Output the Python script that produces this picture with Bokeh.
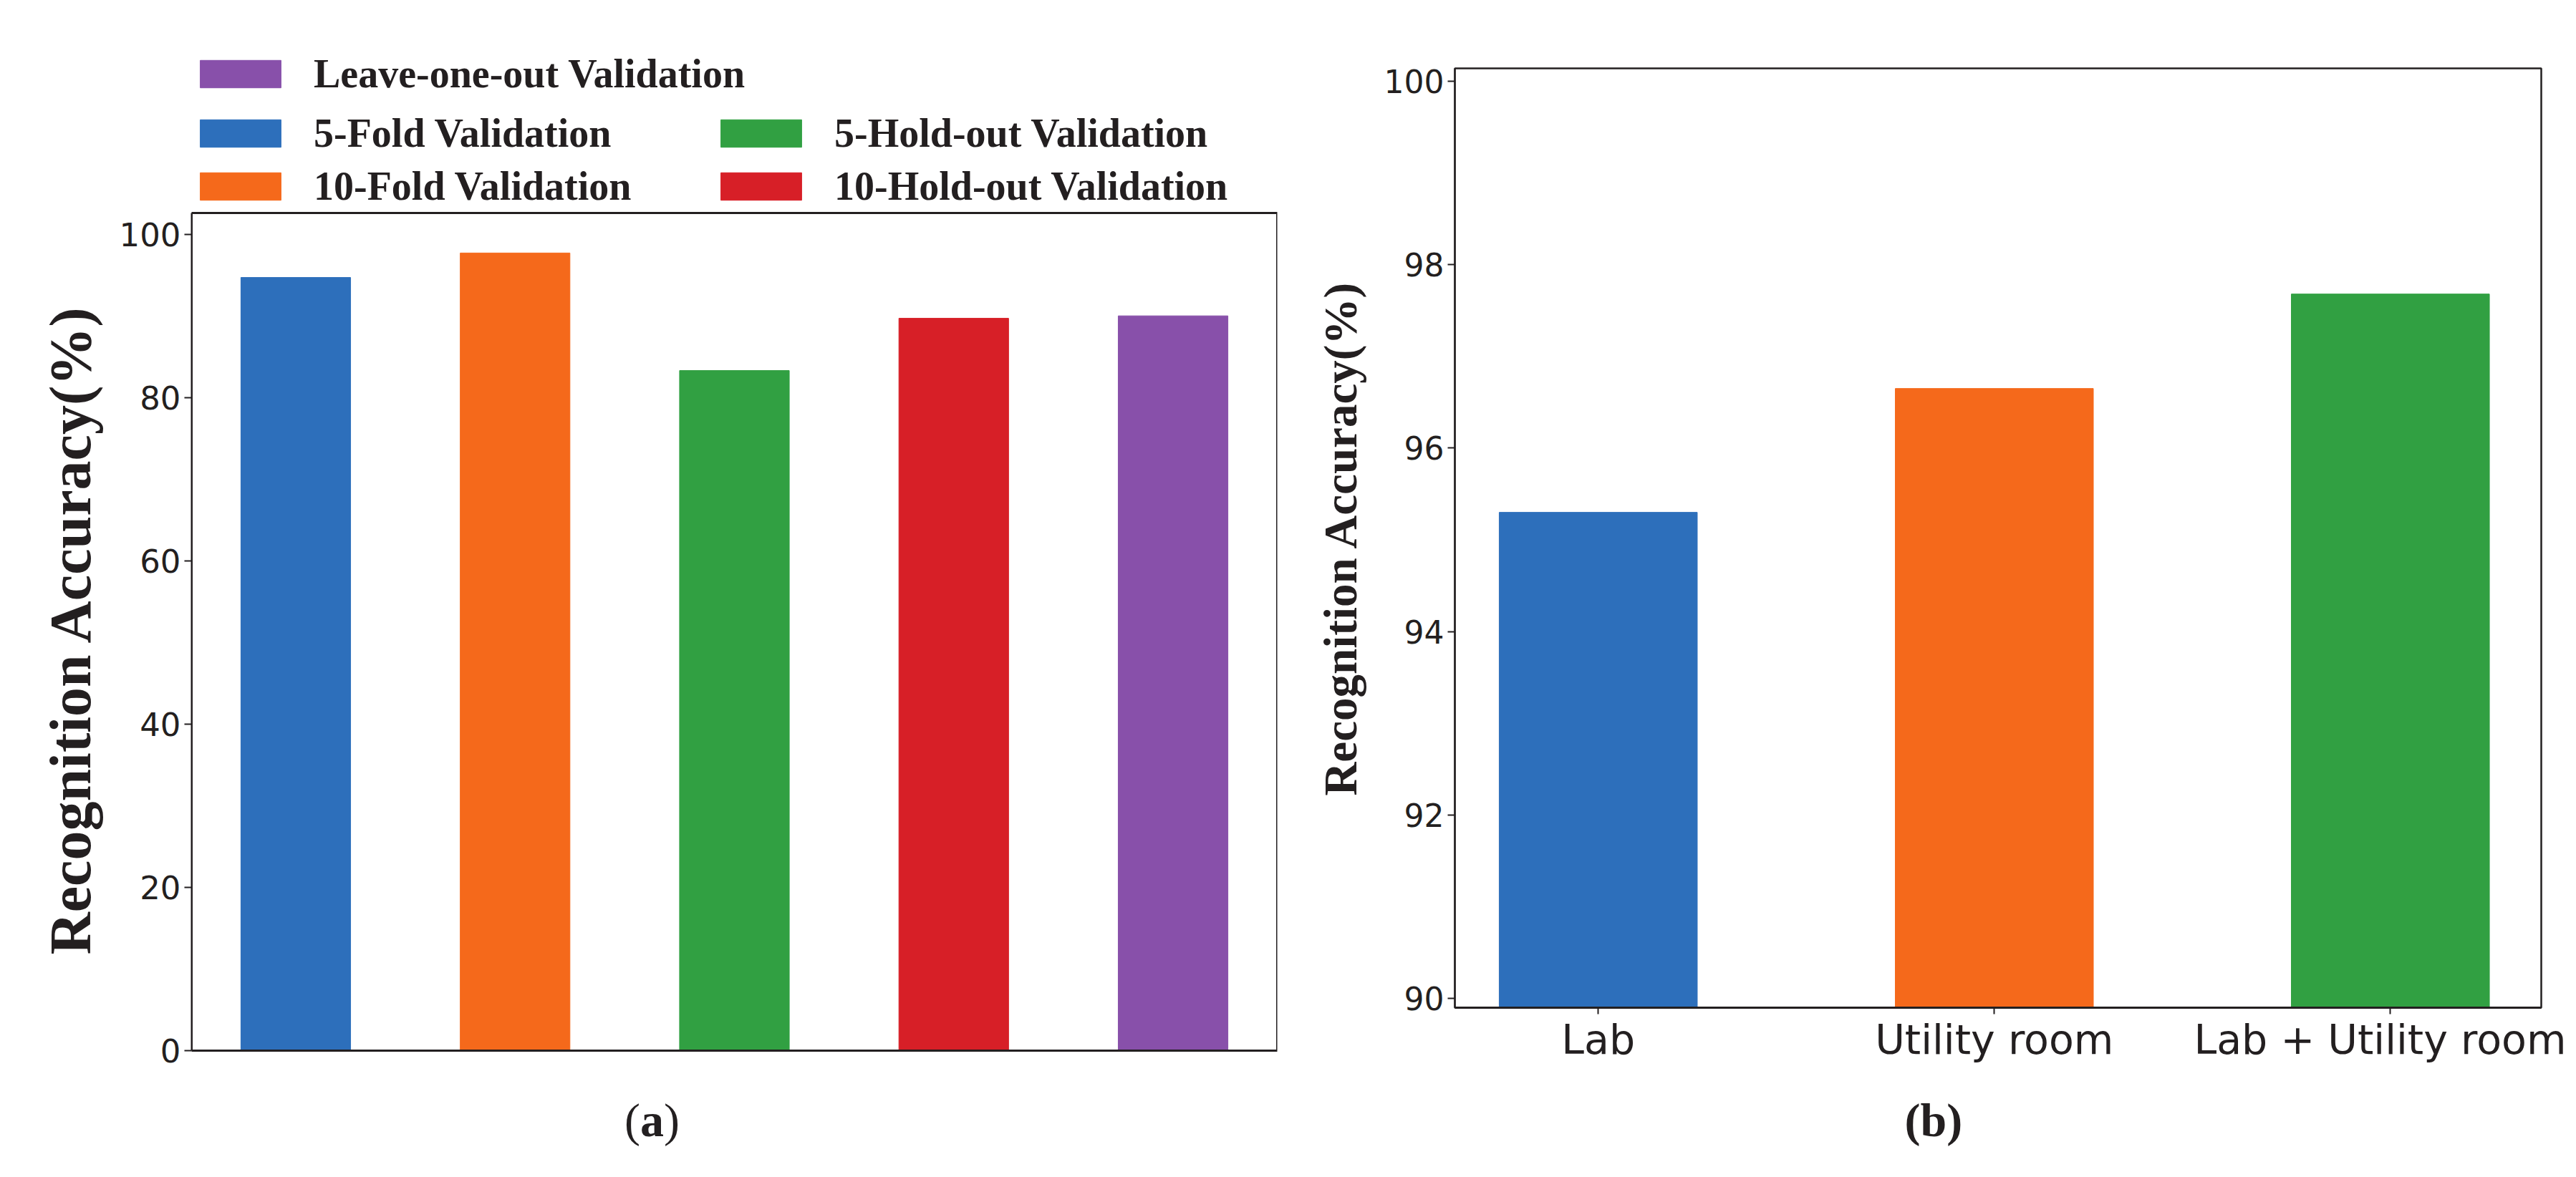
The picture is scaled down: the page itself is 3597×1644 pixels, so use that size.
from bokeh.plotting import figure
from bokeh.models import (ColumnDataSource, FixedTicker, Range1d, BoxAnnotation,
                          Legend, LegendItem, Title, Label)
from bokeh.embed import file_html
from bokeh.resources import INLINE

# ---------------- data ----------------
methods = ["5-Fold Validation", "10-Fold Validation", "5-Hold-out Validation",
           "10-Hold-out Validation", "Leave-one-out Validation"]
accuracy_a = [94.7, 97.7, 83.3, 89.7, 90.0]
scenes = ["Lab", "Utility room", "Lab + Utility room"]
accuracy_b = [95.3, 96.65, 97.68]
yticks_a = [0, 20, 40, 60, 80, 100]
yticks_b = [90, 92, 94, 96, 98, 100]
palette = ["#2d6fbb", "#f5691b", "#31a042", "#d71f27", "#8850aa"]
legend_rows = [[4], [0, 2], [1, 3]]   # top to bottom, indices into methods

INK = "#231f20"
SERIF = "Liberation Serif"
SANS = "DejaVu Sans"

# ---------------- panel (a) ----------------
# The frame of (a) is larger than its visible axes box so that the legend
# (above) and the caption (below) sit inside it.
A_LEFT, A_RIGHT, A_WIDTH = 267, 1783, 1808
A_FTOP, A_BTOP, A_BBOT, A_FBOT = 38, 297, 1467, 1640
YMAX_A = 102.6
ppu = (A_BBOT - A_BTOP) / YMAX_A
y0_a = -(A_FBOT - A_BBOT) / ppu
y1_a = YMAX_A + (A_BTOP - A_FTOP) / ppu
x0_a, x1_a = -0.475, len(methods) - 1 + 0.475

src_a = ColumnDataSource(dict(x=list(range(len(methods))), y=accuracy_a,
                              name=methods, color=palette))
pa = figure(frame_width=A_RIGHT - A_LEFT, frame_height=A_FBOT - A_FTOP,
            output_backend="svg", toolbar_location=None,
            x_range=Range1d(x0_a, x1_a), y_range=Range1d(y0_a, y1_a),
            min_border_left=A_LEFT, min_border_right=A_WIDTH - A_RIGHT,
            min_border_top=A_FTOP, min_border_bottom=4)
ra = pa.vbar(x="x", top="y", width=0.5, bottom=0, color="color", source=src_a)
pa.grid.visible = False
pa.outline_line_color = None
pa.xaxis.visible = False
pa.add_layout(BoxAnnotation(left=x0_a, right=x1_a, bottom=0, top=YMAX_A,
                            fill_alpha=0, line_color=INK, line_alpha=1,
                            line_width=3))
ya = pa.yaxis[0]
ya.bounds = (0, YMAX_A)
ya.ticker = FixedTicker(ticks=yticks_a)
ya.axis_line_color = INK
ya.axis_line_width = 2
ya.major_tick_line_color = INK
ya.major_tick_line_width = 2
ya.major_tick_in = 0
ya.major_tick_out = 10
ya.minor_tick_line_color = None
ya.major_label_text_font = SANS
ya.major_label_text_font_size = "45px"
ya.major_label_text_color = INK
ya.major_label_standoff = 5
pa.styles = {"position": "absolute", "left": "0px", "top": "0px"}

# y-axis title, placed along the visible box
pa.add_layout(Title(text="Recognition Accuracy(%)", align="left",
                    offset=A_FBOT - 1333, standoff=40, text_font=SERIF,
                    text_font_style="bold", text_font_size="82px",
                    text_color=INK), "left")

# legend rows (vertical offsets in px above the frame bottom)
row_offsets = [1505, 1422, 1348]
for items, vy in zip(legend_rows, row_offsets):
    leg = Legend(items=[LegendItem(label=methods[i], renderers=[ra], index=i)
                        for i in items],
                 orientation="horizontal", location=(-2, vy),
                 margin=0, padding=0, spacing=0,
                 glyph_width=141, glyph_height=48, label_standoff=32,
                 label_width=554,
                 border_line_color=None, background_fill_alpha=0,
                 label_text_font=SERIF, label_text_font_style="bold",
                 label_text_font_size="56px", label_text_color=INK)
    pa.add_layout(leg)

# caption (a): regular parentheses, bold letter
cap_kw = dict(y=76, x_units="screen", y_units="screen", text_font=SERIF,
              text_font_size="66px", text_color=INK,
              text_baseline="alphabetic")
pa.add_layout(Label(x=626.5, text="(", text_align="right", **cap_kw))
pa.add_layout(Label(x=643, text="a", text_align="center",
                    text_font_style="bold", **cap_kw))
pa.add_layout(Label(x=659.5, text=")", text_align="left", **cap_kw))

# ---------------- panel (b) ----------------
src_b = ColumnDataSource(dict(x=list(range(len(scenes))), y=accuracy_b,
                              name=scenes, color=palette[:len(scenes)]))
pb = figure(frame_width=3548 - 2031, frame_height=1407 - 95,
            output_backend="svg", toolbar_location=None,
            x_range=Range1d(-0.362, len(scenes) - 1 + 0.381),
            y_range=Range1d(89.9, 100.14),
            min_border_left=2031 - A_WIDTH, min_border_right=35,
            min_border_top=95, min_border_bottom=0)
pb.vbar(x="x", top="y", width=0.5, bottom=89.9, color="color", source=src_b)
pb.grid.visible = False
pb.outline_line_color = INK
pb.outline_line_width = 2.5
yb = pb.yaxis[0]
yb.ticker = FixedTicker(ticks=yticks_b)
yb.axis_line_color = INK
yb.axis_line_width = 2
yb.major_tick_line_color = INK
yb.major_tick_line_width = 2
yb.major_tick_in = 0
yb.major_tick_out = 10
yb.minor_tick_line_color = None
yb.major_label_text_font = SANS
yb.major_label_text_font_size = "44px"
yb.major_label_text_color = INK
yb.major_label_standoff = 5
yb.axis_label = "Recognition Accuracy(%)"
yb.axis_label_text_font = SERIF
yb.axis_label_text_font_style = "bold"
yb.axis_label_text_color = INK
yb.axis_label_text_font_size = "65px"
yb.axis_label_standoff = 22
xb = pb.xaxis[0]
xb.ticker = FixedTicker(ticks=list(range(len(scenes))))
xb.major_label_overrides = {i: s for i, s in enumerate(scenes)}
xb.axis_line_width = 3
xb.axis_line_color = INK
xb.major_tick_line_color = INK
xb.major_tick_line_width = 2
xb.major_tick_in = 0
xb.major_tick_out = 9
xb.minor_tick_line_color = None
xb.major_label_text_font = SANS
xb.major_label_text_font_size = "57px"
xb.major_label_text_color = INK
xb.major_label_standoff = 2
pb.styles = {"position": "absolute", "left": f"{A_WIDTH}px", "top": "0px"}

pb.add_layout(Title(text="(b)", align="left", offset=628, standoff=76,
                    text_font=SERIF, text_font_style="bold",
                    text_font_size="66px", text_color=INK), "below")

open("out.html", "w").write(file_html([pa, pb], INLINE))
